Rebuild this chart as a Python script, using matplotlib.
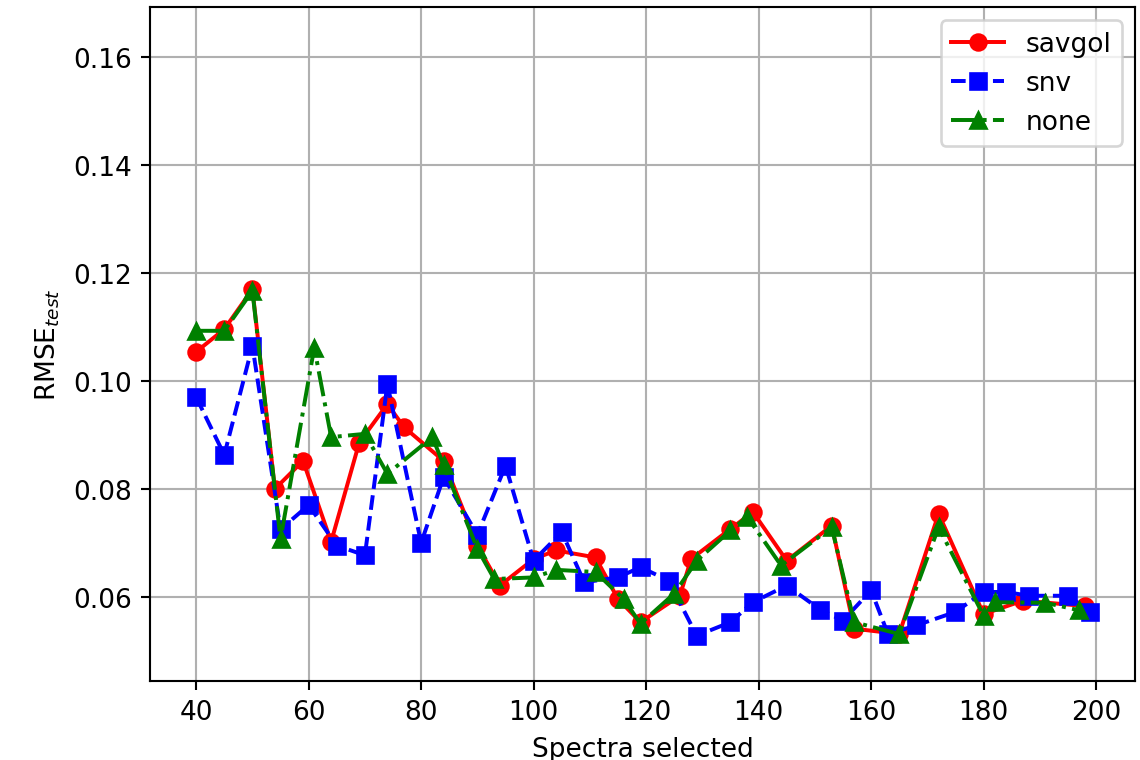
import matplotlib
matplotlib.use("Agg")
import matplotlib.pyplot as plt

savgol_x = [40, 45, 50, 54, 59, 64, 69, 74, 77, 84, 90, 94, 100, 104, 111, 115, 119, 126, 128, 135, 139, 145, 153, 157, 165, 172, 180, 187, 198]
savgol_y = [0.1054, 0.1096, 0.1170, 0.0800, 0.0852, 0.0702, 0.0886, 0.0957, 0.0914, 0.0852, 0.0695, 0.0621, 0.0670, 0.0686, 0.0673, 0.0596, 0.0553, 0.0602, 0.0670, 0.0726, 0.0757, 0.0667, 0.0732, 0.0541, 0.0531, 0.0754, 0.0568, 0.0593, 0.0583]

snv_x = [40, 45, 50, 55, 60, 65, 70, 74, 80, 84, 90, 95, 100, 105, 109, 115, 119, 124, 129, 135, 139, 145, 151, 155, 160, 163, 168, 175, 180, 184, 188, 195, 199]
snv_y = [0.0970, 0.0863, 0.1065, 0.0725, 0.0770, 0.0695, 0.0677, 0.0994, 0.0700, 0.0822, 0.0715, 0.0843, 0.0667, 0.0720, 0.0627, 0.0636, 0.0655, 0.0630, 0.0528, 0.0553, 0.0590, 0.0621, 0.0576, 0.0556, 0.0612, 0.0531, 0.0547, 0.0572, 0.0609, 0.0609, 0.0602, 0.0602, 0.0572]

none_x = [40, 45, 50, 55, 61, 64, 70, 74, 82, 84, 90, 93, 100, 104, 111, 116, 119, 125, 129, 135, 138, 144, 153, 157, 165, 172, 180, 182, 191, 197]
none_y = [0.1093, 0.1093, 0.1167, 0.0707, 0.1062, 0.0896, 0.0902, 0.0828, 0.0896, 0.0844, 0.0689, 0.0633, 0.0636, 0.0650, 0.0646, 0.0596, 0.0550, 0.0606, 0.0667, 0.0723, 0.0748, 0.0658, 0.0729, 0.0553, 0.0531, 0.0729, 0.0565, 0.0590, 0.0589, 0.0575]

fig = plt.figure(figsize=(6.005, 4.005), dpi=190)
ax = fig.add_axes([0.1315, 0.1038, 0.9947 - 0.1315, 0.9895 - 0.1038])

ax.plot(savgol_x, savgol_y, 'r-o', label='savgol')
ax.plot(snv_x, snv_y, 'b--s', label='snv')
ax.plot(none_x, none_y, 'g-.^', label='none')

ax.set_ylim(0.0444, 0.1693)
ax.set_xlim(31.8, 206.9)
ax.set_xlabel('Spectra selected')
ax.set_ylabel('RMSE$_{test}$')
ax.grid(True)
ax.legend(loc='upper right')

fig.savefig('out.png', dpi=190)
